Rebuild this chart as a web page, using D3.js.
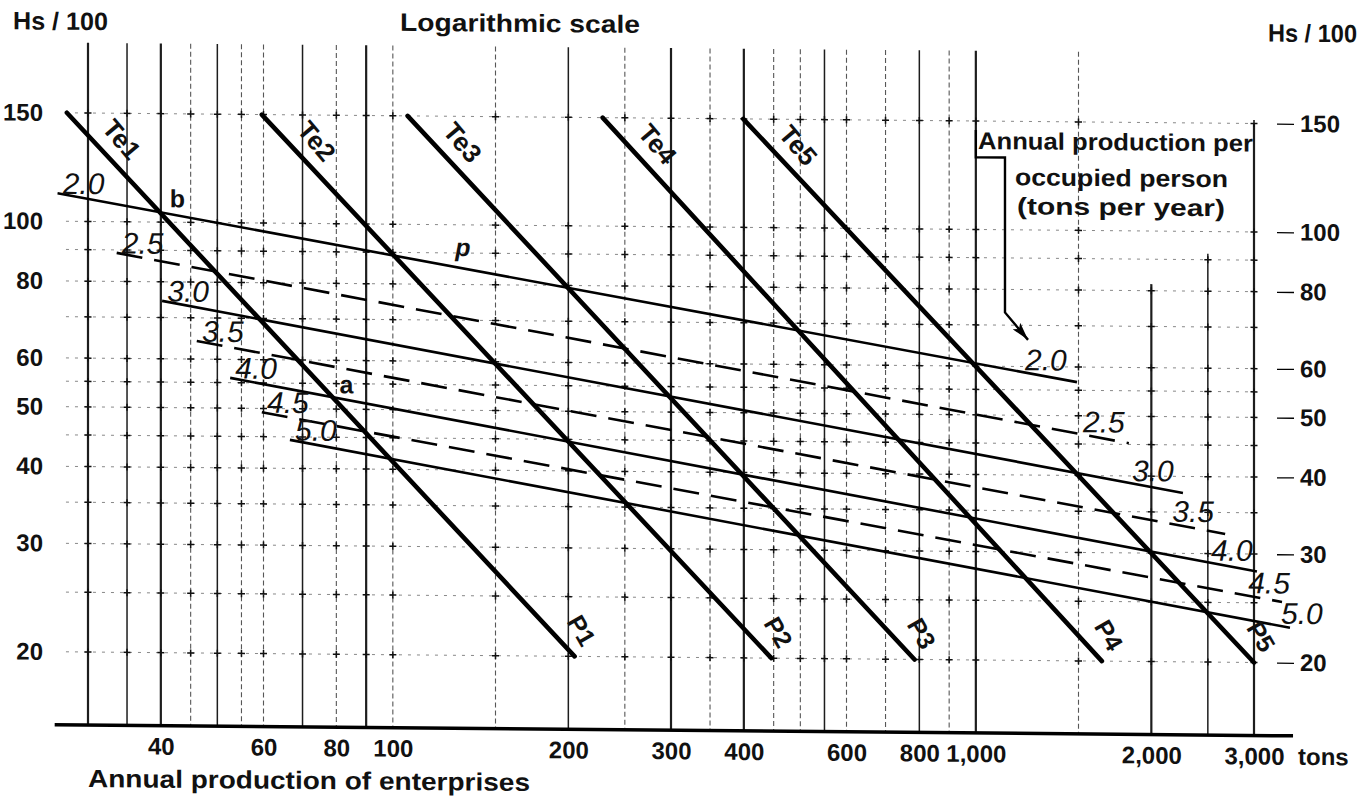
<!DOCTYPE html>
<html>
<head>
<meta charset="utf-8">
<script src="https://cdn.jsdelivr.net/npm/d3@7"></script>
<style>
  body { margin: 0; background: #fff; }
  svg text { font-family: "Liberation Sans", Arial, sans-serif; fill: #111; }
</style>
</head>
<body>
<div id="chart"></div>
<script>
// values (both scales logarithmic)
var productionTicks = [40, 60, 80, 100, 200, 300, 400, 600, 800, 1000, 2000, 3000]
var hsTicks = [20, 30, 40, 50, 60, 80, 100, 150]
var gridProduction = [30, 35, 40, 45, 50, 55, 60, 70, 80, 90, 100, 150, 200, 250, 300, 350, 400, 450, 500, 550, 600, 700, 800, 900, 1000, 1500, 2000, 2500, 3000]
var gridHs = [20, 25, 30, 35, 40, 45, 50, 55, 60, 70, 80, 90, 100, 150]

// Te lines: production where each one meets Hs/100 = 150 (top) and Hs/100 = 20 (P end)
var teNames = ["Te1", "Te2", "Te3", "Te4", "Te5"]
var pNames = ["P1", "P2", "P3", "P4", "P5"]
var teAt150 = [27.6, 59.6, 106, 229, 399]
var teAt20 = [205, 446, 785, 1645, 3000]

// annual production per occupied person (tons per year)
var perPerson = ["2.0", "2.5", "3.0", "3.5", "4.0", "4.5", "5.0"]
var ppStartX = [26.6, 33.6, 40.2, 46.1, 52.6, 59.6, 66.6]
var ppStartHs = [111, 89, 74.5, 64.2, 56.0, 49.3, 44.5]
var ppEndX = [1491, 1830, 2266, 2677, 3035, 3351, 3458]
var ppEndHs = [56.7, 45.2, 37.6, 32.3, 28.1, 25.1, 22.8]

// arrow from the note to the 2.0 line (production, Hs/100)
var notePath = [[1000, 145], [1000, 131], [1122, 131], [1122, 73.4], [1229, 66.3]]

var width = 1362
var height = 799
var skew = 0.009   // the scanned sheet sits slightly askew

var svg = d3.select("#chart")
    .append("svg")
    .attr("width", width)
    .attr("height", height)

var g = svg.append("g")
    .attr("transform", "matrix(1," + skew + ",0,1,0," + (-skew * 88) + ")")

var x = d3.scaleLog().domain([30, 3000]).range([88, 1254])
var y = d3.scaleLog().domain([20, 150]).range([652, 113])
var hsBase = y.invert(725)

// how far up each vertical rule goes, and how it is drawn
function gridTop(v) { return v <= 1500 ? 195 : v == 2000 ? 82 : v == 2500 ? 92 : 150 }
var heavyRules = [30, 40, 90, 300, 400, 1000, 2000, 3000]
var lightRules = [45, 55, 60, 80, 100, 150, 250, 350, 450, 500, 600, 700, 900, 1500]

// vertical rules
g.append("g").selectAll("line")
    .data(gridProduction)
    .enter()
    .append("line")
    .attr("x1", function (d) { return x(d) })
    .attr("x2", function (d) { return x(d) })
    .attr("y1", function (d) { return y(gridTop(d)) })
    .attr("y2", y(hsBase))
    .attr("stroke", "#111")
    .attr("stroke-width", function (d) { return heavyRules.includes(d) ? 2.2 : lightRules.includes(d) ? 1.1 : 1.5 })
    .attr("stroke-dasharray", function (d) { return lightRules.includes(d) ? "5,3" : null })
    .attr("opacity", function (d) { return lightRules.includes(d) ? 0.7 : 0.95 })

// horizontal rules (dotted)
g.append("g").selectAll("line")
    .data(gridHs)
    .enter()
    .append("line")
    .attr("x1", x(27.5))
    .attr("x2", x(3000))
    .attr("y1", function (d) { return y(d) })
    .attr("y2", function (d) { return y(d) })
    .attr("stroke", "#111")
    .attr("stroke-width", 0.9)
    .attr("stroke-dasharray", "3,6")
    .attr("opacity", 0.55)

// small crosses where the rules meet
var crossings = []
gridProduction.forEach(function (p) {
    gridHs.forEach(function (h) { if (h <= gridTop(p)) crossings.push([p, h]) })
})
g.append("g").selectAll("path")
    .data(crossings)
    .enter()
    .append("path")
    .attr("d", "M-3.5,0H3.5M0,-3.5V3.5")
    .attr("transform", function (d) { return "translate(" + x(d[0]) + "," + y(d[1]) + ")" })
    .attr("stroke", "#111")
    .attr("stroke-width", 1.5)

// production per person lines
var pp = perPerson.map(function (lab, i) {
    return {
        label: lab, dashed: i % 2 == 1,
        x1: x(ppStartX[i]), y1: y(ppStartHs[i]),
        x2: x(ppEndX[i]), y2: y(ppEndHs[i])
    }
})
function lineY(l, px) { return l.y1 + (l.y2 - l.y1) * (px - l.x1) / (l.x2 - l.x1) }

g.append("g").selectAll("line")
    .data(pp)
    .enter()
    .append("line")
    .attr("x1", function (d) { return d.x1 })
    .attr("y1", function (d) { return d.y1 })
    .attr("x2", function (d) { return d.x2 })
    .attr("y2", function (d) { return d.y2 })
    .attr("stroke", "#000")
    .attr("stroke-width", 2.6)
    .attr("stroke-dasharray", function (d) { return d.dashed ? "26,12" : null })

// Te lines
var te = teNames.map(function (name, i) {
    return { name: name, p: pNames[i], x1: x(teAt150[i]), y1: y(150), x2: x(teAt20[i]), y2: y(20) }
})
g.append("g").selectAll("line")
    .data(te)
    .enter()
    .append("line")
    .attr("x1", function (d) { return d.x1 })
    .attr("y1", function (d) { return d.y1 })
    .attr("x2", function (d) { return d.x2 })
    .attr("y2", function (d) { return d.y2 })
    .attr("stroke", "#000")
    .attr("stroke-width", 4.6)
    .attr("stroke-linecap", "round")

// Te and P labels along the lines
var teAngle = Math.atan2(te[0].y2 - te[0].y1, te[0].x2 - te[0].x1) * 180 / Math.PI + 3
g.append("g").selectAll("text")
    .data(te)
    .enter()
    .append("text")
    .attr("transform", function (d) { return "translate(" + (d.x1 + 55) + "," + (d.y1 + 26) + ") rotate(" + teAngle + ")" })
    .attr("text-anchor", "middle")
    .attr("dy", "0.35em")
    .attr("font-size", 26)
    .attr("font-weight", "bold")
    .text(function (d) { return d.name })

g.append("g").selectAll("text")
    .data(te)
    .enter()
    .append("text")
    .attr("transform", function (d) { return "translate(" + (d.x2 + 7) + "," + (d.y2 - 26) + ") rotate(" + (teAngle + 10) + ")" })
    .attr("text-anchor", "middle")
    .attr("dy", "0.35em")
    .attr("font-size", 25)
    .attr("font-weight", "bold")
    .text(function (d) { return d.p })

// per-person labels at both ends of each line
var rightLabelDx = [-31, -25, -30, -32, -25, -13, 12]
var ppLabels = g.append("g")
    .attr("font-size", 30)
    .attr("font-style", "italic")
    .style("font-family", "'Liberation Sans Narrow', 'Liberation Sans', sans-serif")
ppLabels.selectAll("text.left")
    .data(pp)
    .enter()
    .append("text")
    .attr("class", "left")
    .attr("x", function (d) { return d.x1 + 26 })
    .attr("y", function (d) { return lineY(d, d.x1 + 26) - 4 })
    .attr("text-anchor", "middle")
    .text(function (d) { return d.label })
ppLabels.selectAll("text.right")
    .data(pp)
    .enter()
    .append("text")
    .attr("class", "right")
    .attr("x", function (d, i) { return d.x2 + rightLabelDx[i] })
    .attr("y", function (d, i) { return lineY(d, d.x2 + rightLabelDx[i]) - 6 })
    .attr("text-anchor", "middle")
    .text(function (d) { return d.label })

// marked points a and b: where Te1 crosses the 4.0 and 2.0 lines
function cross(a, b) {
    var d1x = a.x2 - a.x1, d1y = a.y2 - a.y1, d2x = b.x2 - b.x1, d2y = b.y2 - b.y1
    var t = ((b.x1 - a.x1) * d2y - (b.y1 - a.y1) * d2x) / (d1x * d2y - d1y * d2x)
    return [a.x1 + t * d1x, a.y1 + t * d1y]
}
var pb = cross(te[0], pp[0])
var pa = cross(te[0], pp[4])
g.append("text").attr("x", pb[0] + 10).attr("y", pb[1] - 5)
    .attr("font-size", 25).attr("font-weight", "bold").text("b")
g.append("text").attr("x", pa[0] + 7).attr("y", pa[1] - 4)
    .attr("font-size", 25).attr("font-weight", "bold").text("a")
g.append("text").attr("x", x(128)).attr("y", lineY(pp[0], x(128)) - 11)
    .attr("font-size", 25).attr("font-weight", "bold").attr("font-style", "italic").text("p")

// axes
function styleAxis(sel) {
    sel.attr("font-family", null).attr("font-size", 24).attr("font-weight", "bold")
    sel.select(".domain").remove()
}
g.append("g")
    .attr("transform", "translate(0," + y(hsBase) + ")")
    .call(d3.axisBottom(x).tickValues(productionTicks).tickFormat(d3.format(",")).tickSize(0).tickPadding(12))
    .call(styleAxis)
g.append("line")
    .attr("x1", x(26.3)).attr("x2", x(3500))
    .attr("y1", y(hsBase)).attr("y2", y(hsBase))
    .attr("stroke", "#000").attr("stroke-width", 3.5)
g.append("text")
    .attr("x", x(3000) + 44).attr("y", y(hsBase) + 29)
    .attr("font-size", 24).attr("font-weight", "bold").text("tons")

g.append("g")
    .attr("transform", "translate(47,0)")
    .call(d3.axisLeft(y).tickValues(hsTicks).tickSize(0).tickPadding(4))
    .call(styleAxis)
g.append("g")
    .attr("transform", "translate(1277,0)")
    .call(d3.axisRight(y).tickValues(hsTicks).tickSize(17).tickPadding(6))
    .call(styleAxis)
    .selectAll("line").attr("stroke-width", 1.3)

// titles
g.append("text").attr("x", 13).attr("y", 30).attr("font-size", 25).attr("font-weight", "bold")
    .attr("textLength", 95).attr("lengthAdjust", "spacingAndGlyphs").text("Hs / 100")
g.append("text").attr("x", 1268).attr("y", 31).attr("font-size", 25).attr("font-weight", "bold")
    .attr("textLength", 89).attr("lengthAdjust", "spacingAndGlyphs").text("Hs / 100")
g.append("text").attr("x", 400).attr("y", 28).attr("font-size", 25).attr("font-weight", "bold")
    .attr("textLength", 240).attr("lengthAdjust", "spacingAndGlyphs").text("Logarithmic scale")
g.append("text").attr("x", 88).attr("y", 787).attr("font-size", 25).attr("font-weight", "bold")
    .attr("textLength", 442).attr("lengthAdjust", "spacingAndGlyphs").text("Annual production of enterprises")

var note = g.append("g").attr("font-size", 24).attr("font-weight", "bold")
note.append("text").attr("x", 978).attr("y", 141).attr("textLength", 275).attr("lengthAdjust", "spacingAndGlyphs").text("Annual production per")
note.append("text").attr("x", 1015).attr("y", 177).attr("textLength", 213).attr("lengthAdjust", "spacingAndGlyphs").text("occupied person")
note.append("text").attr("x", 1017).attr("y", 206).attr("textLength", 208).attr("lengthAdjust", "spacingAndGlyphs").text("(tons per year)")

svg.append("defs").append("marker")
    .attr("id", "head")
    .attr("markerUnits", "userSpaceOnUse")
    .attr("markerWidth", 20).attr("markerHeight", 10)
    .attr("refX", 18).attr("refY", 5)
    .attr("orient", "auto")
    .append("path").attr("d", "M0,0L18,5L0,10L4,5Z").attr("fill", "#000")

g.append("path")
    .datum(notePath)
    .attr("d", d3.line().x(function (d) { return x(d[0]) }).y(function (d) { return y(d[1]) }))
    .attr("fill", "none")
    .attr("stroke", "#000")
    .attr("stroke-width", 2.4)
    .attr("marker-end", "url(#head)")
</script>
</body>
</html>
